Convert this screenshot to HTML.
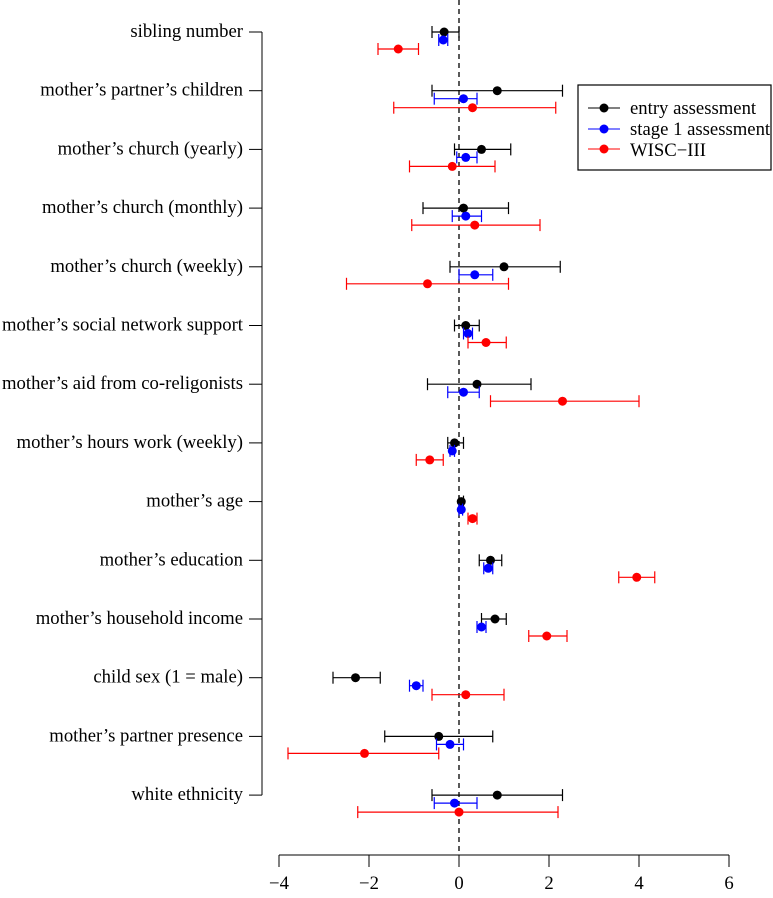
<!DOCTYPE html>
<html><head><meta charset="utf-8"><style>
body{margin:0;background:#fff}
svg text{font-family:"Liberation Serif",serif;font-size:18.7px}
</style></head><body>
<svg id="chart" width="773" height="893" xmlns="http://www.w3.org/2000/svg">
<g id="g"></g>
<g>
<rect x="578" y="85" width="193" height="85" fill="#fff" stroke="#000" stroke-width="1.2"/>
<line x1="588" y1="108" x2="620" y2="108" stroke="#000"/><circle cx="604" cy="108" r="4.5" fill="#000"/>
<text x="630" y="114">entry assessment</text>
<line x1="588" y1="129" x2="620" y2="129" stroke="#00f"/><circle cx="604" cy="129" r="4.5" fill="#00f"/>
<text x="630" y="135">stage 1 assessment</text>
<line x1="588" y1="149" x2="620" y2="149" stroke="#f00"/><circle cx="604" cy="149" r="4.5" fill="#f00"/>
<text x="630" y="156">WISC−III</text>
</g>
</svg>
<script>
const categories=["sibling number","mother’s partner’s children","mother’s church (yearly)","mother’s church (monthly)","mother’s church (weekly)","mother’s social network support","mother’s aid from co-religonists","mother’s hours work (weekly)","mother’s age","mother’s education","mother’s household income","child sex (1 = male)","mother’s partner presence","white ethnicity"];
const entryEst=[-0.33,0.85,0.5,0.1,1.0,0.15,0.4,-0.1,0.05,0.7,0.8,-2.3,-0.45,0.85];
const entryLo=[-0.6,-0.6,-0.1,-0.8,-0.2,-0.1,-0.7,-0.25,0,0.45,0.5,-2.8,-1.65,-0.6];
const entryHi=[0,2.3,1.15,1.1,2.25,0.45,1.6,0.1,0.1,0.95,1.05,-1.75,0.75,2.3];
const stageEst=[-0.35,0.1,0.15,0.15,0.35,0.2,0.1,-0.15,0.05,0.65,0.5,-0.95,-0.2,-0.1];
const stageLo=[-0.45,-0.55,-0.05,-0.15,0,0.1,-0.25,-0.2,0,0.55,0.4,-1.1,-0.5,-0.55];
const stageHi=[-0.25,0.4,0.4,0.5,0.75,0.3,0.45,-0.1,0.08,0.75,0.6,-0.8,0.1,0.4];
const wiscEst=[-1.35,0.3,-0.15,0.35,-0.7,0.6,2.3,-0.65,0.3,3.95,1.95,0.15,-2.1,0];
const wiscLo=[-1.8,-1.45,-1.1,-1.05,-2.5,0.2,0.7,-0.95,0.2,3.55,1.55,-0.6,-3.8,-2.25];
const wiscHi=[-0.9,2.15,0.8,1.8,1.1,1.05,4.0,-0.35,0.4,4.35,2.4,1.0,-0.45,2.2];
const xTicks=[-4,-2,0,2,4,6];
const NS="http://www.w3.org/2000/svg";
const g=document.getElementById('g');
const X=v=>459+v*45;
const Y=i=>32+i*58.7;
function mk(t,a){const e=document.createElementNS(NS,t);for(const k in a)e.setAttribute(k,a[k]);g.appendChild(e);return e;}
let z=mk('line',{x1:X(0),y1:0,x2:X(0),y2:855,stroke:'#000','stroke-dasharray':'5,4','stroke-width':1.3});


let ya=mk('line',{x1:262,y1:Y(0),x2:262,y2:Y(13),stroke:'#000'});


categories.forEach((c,i)=>{
 let t=mk('line',{x1:249,y1:Y(i),x2:262,y2:Y(i),stroke:'#000'});
 
 
 let tx=mk('text',{x:243,y:Y(i)+5,'text-anchor':'end'});tx.textContent=c;
 
 
});
let xa=mk('line',{x1:X(-4),y1:855,x2:X(6),y2:855,stroke:'#000'});


xTicks.forEach(v=>{
 let t=mk('line',{x1:X(v),y1:855,x2:X(v),y2:867,stroke:'#000'});
 
 
 let tx=mk('text',{x:X(v),y:889,'text-anchor':'middle'});tx.textContent=(v<0?'−'+(-v):v);
 
 
});
const series=[[entryEst,entryLo,entryHi,'#000',0,'entry'],[stageEst,stageLo,stageHi,'#00f',8,'stage1'],[wiscEst,wiscLo,wiscHi,'#f00',17,'wisc']];
series.forEach(([e,lo,hi,col,off,nm])=>{
 e.forEach((v,i)=>{
  const y=Y(i)+off;
  let l=mk('line',{x1:X(lo[i]),y1:y,x2:X(hi[i]),y2:y,stroke:col,'stroke-width':1.2});
  
  
  [lo[i],hi[i]].forEach(b=>{let c=mk('line',{x1:X(b),y1:y-6,x2:X(b),y2:y+6,stroke:col,'stroke-width':1.2});
   
   });
  let p=mk('circle',{cx:X(v),cy:y,r:4.5,fill:col});
  
  
 });
});
</script>
</body></html>
